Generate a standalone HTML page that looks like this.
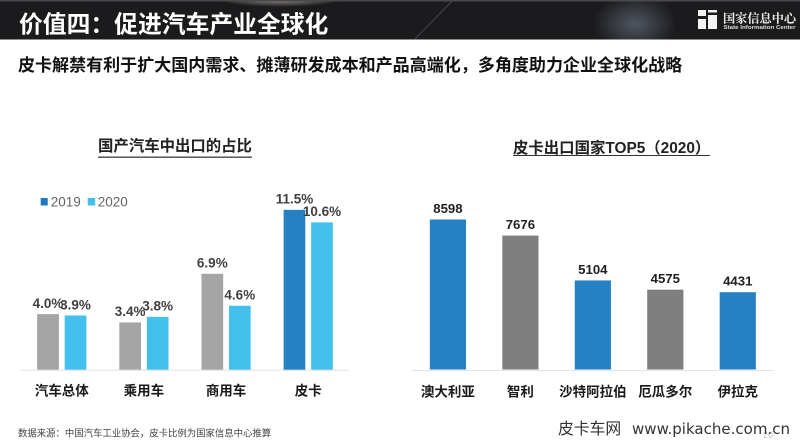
<!DOCTYPE html>
<html lang="zh">
<head>
<meta charset="utf-8">
<title>价值四&#xFF1A;促进汽车产业全球化</title>
<style>
html,body{margin:0;padding:0;background:#fff;}
body{width:800px;height:443px;overflow:hidden;position:relative;}
svg{position:absolute;left:0;top:0;display:block;}
text{font-family:"Liberation Sans","Noto Sans CJK SC",sans-serif;}
</style>
</head>
<body>
<svg id="chart" width="800" height="443" viewBox="0 0 800 443">
  <defs>
    <radialGradient id="glowWarm" cx="50%" cy="50%" r="50%">
      <stop offset="0%" stop-color="#c9beb2" stop-opacity="0.95"/>
      <stop offset="100%" stop-color="#b5aca2" stop-opacity="0"/>
    </radialGradient>
    <radialGradient id="glowCool" cx="50%" cy="50%" r="50%">
      <stop offset="0%" stop-color="#5d6470" stop-opacity="0.8"/>
      <stop offset="100%" stop-color="#5d6470" stop-opacity="0"/>
    </radialGradient>
    <clipPath id="headerClip"><rect x="0" y="0" width="800" height="39.5"/></clipPath>
  </defs>

  <g>
    <rect x="0" y="0" width="800" height="39.5" fill="#1b1b1d"/>
    <g clip-path="url(#headerClip)">
      <ellipse cx="280" cy="-2" rx="65" ry="9" fill="url(#glowWarm)"/>
      <ellipse cx="635" cy="24" rx="42" ry="30" fill="url(#glowCool)"/>
      <line x1="453" y1="0" x2="415" y2="39" stroke="#55555a" stroke-width="0.8"/>
      <rect x="0" y="0" width="800" height="1.5" fill="#4a4a4c"/>
    </g>
    <text x="19" y="32.5" font-size="23.8" font-weight="700" fill="#ffffff">价值四&#xFF1A;促进汽车产业全球化</text>
    <g>
      <rect x="698" y="10" width="8" height="6" fill="#f2f2f2"/>
      <rect x="698" y="19" width="8" height="10" fill="#f2f2f2"/>
      <rect x="708" y="10" width="9" height="2.5" fill="#f2f2f2"/>
      <rect x="708" y="15" width="9" height="14" fill="#f2f2f2"/>
      <text x="723" y="22.5" font-size="12.2" font-weight="700" fill="#eeeeee" style="font-family:'Noto Serif CJK SC','Noto Sans CJK SC',serif">国家信息中心</text>
      <text x="723.5" y="29" font-size="5.4" font-weight="700" fill="#dddddd" textLength="72" lengthAdjust="spacingAndGlyphs">State Information Center</text>
    </g>
  </g>

  <text x="18" y="71" font-size="17.05" font-weight="700" fill="#111111">皮卡解禁有利于扩大国内需求、摊薄研发成本和产品高端化&#xFF0C;多角度助力企业全球化战略</text>

  <g>
    <text x="175" y="151" text-anchor="middle" font-size="15.4" font-weight="700" fill="#222222">国产汽车中出口的占比</text>
    <line x1="98" y1="157.2" x2="252" y2="157.2" stroke="#444444" stroke-width="1.4"/>
  </g>
  <g>
    <text x="513" y="153" font-size="15.4" font-weight="700" fill="#222222">皮卡出口国家TOP5&#xFF08;2020&#xFF09;</text>
    <line x1="513" y1="155.5" x2="710" y2="155.5" stroke="#333333" stroke-width="1"/>
  </g>

  <g>
    <g>
      <rect x="40.7" y="198" width="7" height="7.5" fill="#1f78bf"/>
      <text x="50.7" y="206.5" font-size="13.5" fill="#666666">2019</text>
    </g>
    <g>
      <rect x="87.7" y="198" width="7.5" height="7.5" fill="#45bfee"/>
      <text x="97.7" y="206.5" font-size="13.5" fill="#666666">2020</text>
    </g>
  </g>

  <g id="leftChart"></g>
  <g id="rightChart"></g>

  <text x="18" y="436.5" font-size="9.4" fill="#444444">数据来源&#xFF1A;中国汽车工业协会&#xFF0C;皮卡比例为国家信息中心推算</text>
  <text x="768" y="438" text-anchor="middle" font-size="9" fill="#c4c4c4">20</text>
  <g>
    <text x="558" y="434" font-size="15.8" fill="#333333" style="font-family:'Noto Sans CJK SC',sans-serif">皮卡车网</text>
    <text x="632" y="434" font-size="15" fill="#333333" textLength="158" lengthAdjust="spacingAndGlyphs" style="font-family:'DejaVu Sans',sans-serif">www.pikache.com.cn</text>
  </g>
</svg>

<script>
var shareCategories = ['汽车总体', '乘用车', '商用车', '皮卡'];
var shareValues2019 = [4.0, 3.4, 6.9, 11.5];
var shareValues2020 = [3.9, 3.8, 4.6, 10.6];
var shareLabels2019 = ['4.0%', '3.4%', '6.9%', '11.5%'];
var shareLabels2020 = ['3.9%', '3.8%', '4.6%', '10.6%'];

var exportCountries = ['澳大利亚', '智利', '沙特阿拉伯', '厄瓜多尔', '伊拉克'];
var exportValues = [8598, 7676, 5104, 4575, 4431];

var SVG_NS = 'http://www.w3.org/2000/svg';

function addRect(parent, x, y, w, h, fill) {
  var el = document.createElementNS(SVG_NS, 'rect');
  el.setAttribute('x', x);
  el.setAttribute('y', y);
  el.setAttribute('width', w);
  el.setAttribute('height', h);
  el.setAttribute('fill', fill);
  parent.appendChild(el);
  return el;
}
function addText(parent, x, y, str, size, bold, fill) {
  var el = document.createElementNS(SVG_NS, 'text');
  el.setAttribute('x', x);
  el.setAttribute('y', y);
  el.setAttribute('text-anchor', 'middle');
  el.setAttribute('font-size', size);
  el.setAttribute('font-weight', bold ? '700' : '400');
  el.setAttribute('fill', fill);
  el.textContent = str;
  parent.appendChild(el);
  return el;
}
function addLine(parent, x1, y1, x2, y2, stroke) {
  var el = document.createElementNS(SVG_NS, 'line');
  el.setAttribute('x1', x1);
  el.setAttribute('y1', y1);
  el.setAttribute('x2', x2);
  el.setAttribute('y2', y2);
  el.setAttribute('stroke', stroke);
  el.setAttribute('stroke-width', '1');
  parent.appendChild(el);
  return el;
}

/* ---------- left chart ---------- */
(function () {
  var g = document.getElementById('leftChart');
  var axisL = 20.7, axisR = 349.3, baseY = 369.7;
  var pxPerUnit = 13.9;
  var band = (axisR - axisL) / shareCategories.length;
  var barW = 21.7, gap = 5.8;
  function yScale(v) { return baseY - v * pxPerUnit; }
  function bandCenter(i) { return axisL + band * (i + 0.5); }

  var axis = addLine(g, axisL, baseY + 0.5, axisR, baseY + 0.5, '#e4e4e4');
  
  

  shareCategories.forEach(function (cat, i) {
    var c = bandCenter(i);
    var x1 = c - gap / 2 - barW;
    var x2 = c + gap / 2;

    var fill2019 = i === shareCategories.length - 1 ? '#2580c4' : '#a5a5a5';
    var b1 = addRect(g, x1, yScale(shareValues2019[i]), barW, baseY - yScale(shareValues2019[i]), fill2019);
    
    

    var b2 = addRect(g, x2, yScale(shareValues2020[i]), barW, baseY - yScale(shareValues2020[i]), '#45bfee');
    
    

    var l1 = addText(g, x1 + barW / 2, yScale(shareValues2019[i]) - 6.2, shareLabels2019[i], 13.5, true, '#404040');
    
    

    var l2 = addText(g, x2 + barW / 2, yScale(shareValues2020[i]) - 6.2, shareLabels2020[i], 13.5, true, '#404040');
    
    

    var cl = addText(g, c, 395.5, cat, 13.5, true, '#1a1a1a');
    
    
  });
})();

/* ---------- right chart ---------- */
(function () {
  var g = document.getElementById('rightChart');
  var axisL = 411.7, axisR = 774, baseY = 369.5;
  var pxPerUnit = 150 / 8598;
  var band = (axisR - axisL) / exportCountries.length;
  var barW = 36.2;
  function yScale(v) { return baseY - v * pxPerUnit; }
  function bandCenter(i) { return axisL + band * (i + 0.5); }

  var axis = addLine(g, axisL, baseY + 1, axisR, baseY + 1, '#e4e4e4');
  
  

  exportCountries.forEach(function (name, i) {
    var c = bandCenter(i);
    var fill = i % 2 === 0 ? '#2580c4' : '#7f7f7f';

    var b = addRect(g, c - barW / 2, yScale(exportValues[i]), barW, baseY - yScale(exportValues[i]), fill);
    
    

    var v = addText(g, c, yScale(exportValues[i]) - 6.5, String(exportValues[i]), 13.2, true, '#222222');
    
    

    var l = addText(g, c, 396.5, name, 13.5, true, '#1a1a1a');
    
    
  });
})();
</script>
</body>
</html>
